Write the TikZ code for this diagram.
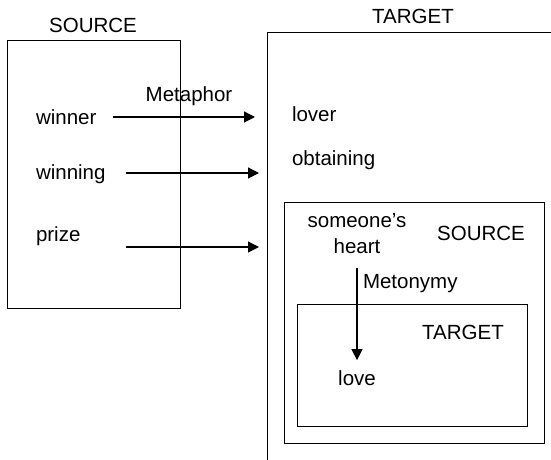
\documentclass[tikz,border=0pt]{standalone}
\usepackage{fontspec}
\setmainfont{Liberation Sans}
\usetikzlibrary{arrows.meta}
\begin{document}
\begin{tikzpicture}[x=1bp,y=-1bp,
  lbl/.style={inner sep=0pt,outer sep=0pt,font=\fontsize{20.5bp}{24bp}\selectfont},
  frame/.style={draw,line width=1bp,inner sep=0pt},
  arr/.style={line width=1.2bp,-{Triangle[length=11bp,width=11bp]}}]
\useasboundingbox (0,0) rectangle (551,460);

% source domain
\node[frame,minimum width=172bp,minimum height=267bp] (src) at (94,174.5) {};
\node[lbl,anchor=base] (srclbl) at (93,33) {SOURCE};
\node[lbl,anchor=base west] (winner) at (36,125) {winner};
\node[lbl,anchor=base west] (winning) at (36,180) {winning};
\node[lbl,anchor=base west] (prize) at (36,242) {prize};

% target domain, running off the page to the right and bottom
\begin{scope}
\clip (0,0) rectangle (551,460);
\node[frame,minimum width=340bp,minimum height=480bp,anchor=north west] (tgt) at (267,32) {};
\end{scope}
\node[lbl,anchor=base] (tgtlbl) at (413,24) {TARGET};
\node[lbl,anchor=base west] (lover) at (292,122) {lover};
\node[lbl,anchor=base west] (obtaining) at (292,166) {obtaining};

% metonymy inside the target
\node[frame,minimum width=260bp,minimum height=240bp] (isrc) at (414,323) {};
\node[frame,minimum width=230bp,minimum height=122bp] (itgt) at (412,365) {};
\node[lbl,anchor=base] (someone) at (357,228) {someone’s};
\node[lbl,anchor=base] (heart) at (357,254) {heart};
\node[lbl,anchor=base] (isrclbl) at (481,241) {SOURCE};
\node[lbl,anchor=base west] (metonymy) at (363,288) {Metonymy};
\node[lbl,anchor=base] (itgtlbl) at (463,339) {TARGET};
\node[lbl,anchor=base] (love) at (357,385) {love};

% metaphor mappings
\node[lbl,anchor=base] (metaphor) at (189,102) {Metaphor};
\coordinate (s1) at ([shift={(17,-8)}]winner.base east);
\coordinate (s2) at ([shift={(20,-7)}]winning.base east);
\coordinate (s3) at ([shift={(46,5)}]prize.base east);
\draw[arr,shorten >=12bp] (s1) -- (s1 -| tgt.west);
\draw[arr,shorten >=8bp] (s2) -- (s2 -| tgt.west);
\draw[arr,shorten >=8bp] (s3) -- (s3 -| tgt.west);

% metonymy mapping
\draw[arr,shorten <=14bp,shorten >=10bp] (heart.south) -- (love.north);
\end{tikzpicture}
\end{document}
